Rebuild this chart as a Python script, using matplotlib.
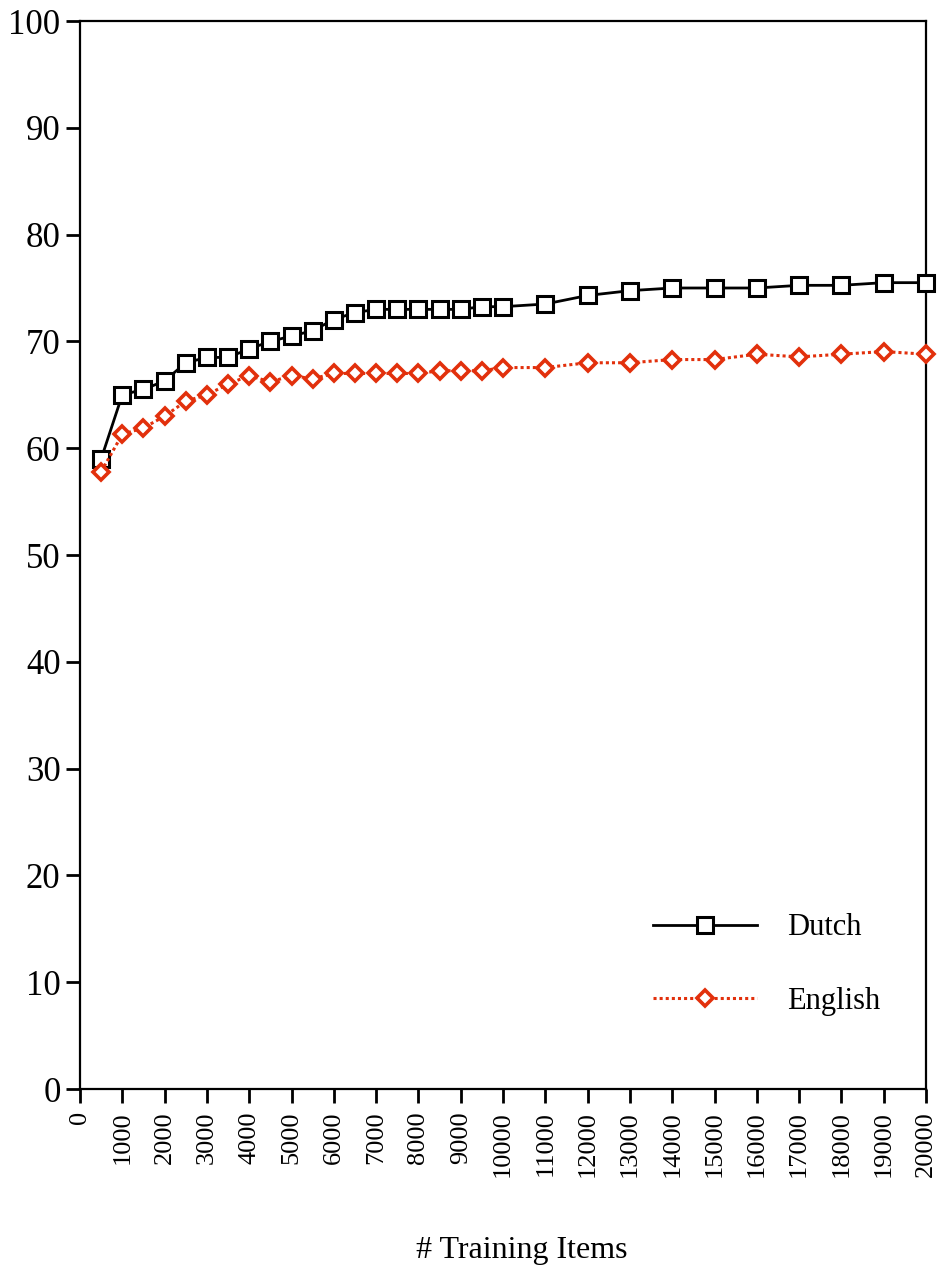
import numpy as np
import matplotlib
matplotlib.use('Agg')
from matplotlib import pyplot as plt

plt.rcParams['font.family'] = ['Liberation Serif', 'DejaVu Serif']

items = [500, 1000, 1500, 2000, 2500, 3000, 3500, 4000, 4500, 5000,
         5500, 6000, 6500, 7000, 7500, 8000, 8500, 9000, 9500, 10000,
         11000, 12000, 13000, 14000, 15000, 16000, 17000, 18000, 19000, 20000]
dutch = [59.0, 65.0, 65.5, 66.3, 68.0, 68.5, 68.5, 69.3, 70.0, 70.5,
         71.0, 72.05, 72.7, 73.0, 73.0, 73.0, 73.0, 73.0, 73.25, 73.25,
         73.5, 74.3, 74.75, 75.0, 75.0, 75.0, 75.25, 75.25, 75.5, 75.5]
english = [57.8, 61.3, 61.9, 63.0, 64.4, 65.0, 66.0, 66.8, 66.2, 66.8,
           66.5, 67.0, 67.0, 67.0, 67.0, 67.0, 67.25, 67.25, 67.25, 67.55,
           67.55, 68.0, 68.0, 68.3, 68.3, 68.8, 68.55, 68.8, 69.05, 68.8]
x_ticks = list(range(0, 20001, 1000))
y_ticks = list(range(0, 101, 10))

red = '#e2300c'

fig = plt.figure(figsize=(9.46, 12.73), dpi=100)
ax = fig.add_axes([80 / 946, 1 - 1089 / 1273, 846 / 946, 1068 / 1273])

ax.plot(items, dutch, color='black', lw=2, marker='s', markersize=11.5,
        markerfacecolor='white', markeredgecolor='black', markeredgewidth=2.2,
        label='Dutch', clip_on=False, zorder=3)
ax.plot(items, english, color=red, lw=2.2, linestyle=(0, (1, 1)), marker='D',
        markersize=8.5, markerfacecolor='white', markeredgecolor=red,
        markeredgewidth=2.6, label='English', clip_on=False, zorder=3)

ax.set_xlim(0, 20000)
ax.set_ylim(0, 100)
ax.set_xticks(x_ticks)
ax.set_xticklabels([str(t) for t in x_ticks], rotation=90, va='top', ha='center', fontsize=19)
ax.set_yticks(y_ticks)
ax.set_yticklabels([str(t) for t in y_ticks], fontsize=25)
ax.tick_params(axis='both', direction='out', length=10, width=2, pad=6, colors='black')
ax.tick_params(axis='y', pad=4)
for sp in ax.spines.values():
    sp.set_linewidth(1.6)

ax.set_xlabel('# Training Items', fontsize=23)
ax.xaxis.set_label_coords((522 - 80) / 846, -(1236 - 1089) / 1068)

ax.legend(loc='lower right', bbox_to_anchor=(0.979, 0.043), frameon=False, fontsize=22,
          handlelength=3.4, handletextpad=1.0, labelspacing=1.45)

plt.savefig('out.png', dpi=100)
